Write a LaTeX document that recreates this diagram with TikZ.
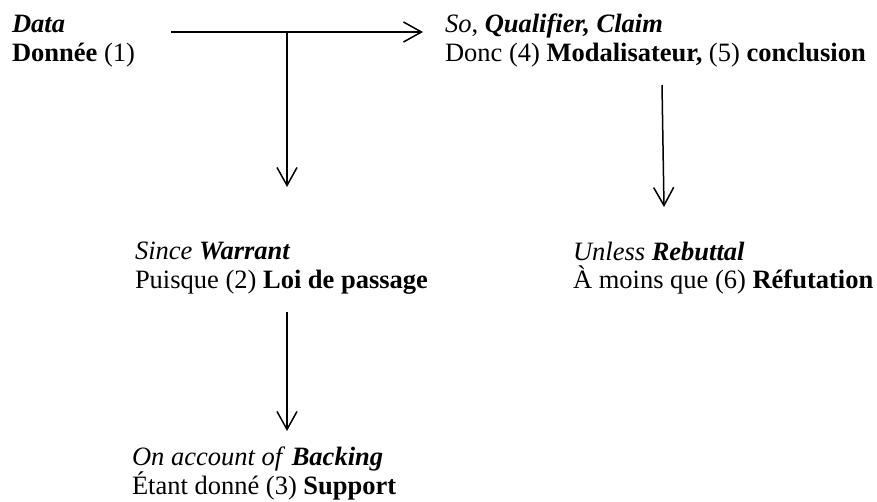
\documentclass[tikz,border=0pt]{standalone}
\usepackage{fontspec}
\setmainfont{Liberation Serif}
\usetikzlibrary{arrows.meta}
\begin{document}
\begin{tikzpicture}[x=0.5pt,y=-0.5pt,
  lbl/.style={anchor=base west,inner sep=0pt,outer sep=0pt,font=\fontsize{13.25}{14.5}\selectfont},
  arr/.style={line width=0.75pt,-{Straight Barb[length=9pt,width=10pt]}},
  ln/.style={line width=0.75pt}]
\useasboundingbox (0,0) rectangle (877,502);
% text blocks
\node[lbl] (dataA) at (12,33) {\textbf{\textit{Data}}};
\node[lbl] (dataB) at (12,62) {\textbf{Donnée} (1)};
\node[lbl] (claimA) at (445,33) {\textit{So}, \textbf{\textit{Qualifier, Claim}}};
\node[lbl] (claimB) at (445,62) {Donc (4) \textbf{Modalisateur,} (5) \textbf{conclusion}};
\node[lbl] (warA) at (135,259) {\textit{Since} \textbf{\textit{Warrant}}};
\node[lbl] (warB) at (135,288) {Puisque (2) \textbf{Loi de passage}};
\node[lbl] (backA) at (132,465) {\textit{On account of} \textbf{\textit{Backing}}};
\node[lbl] (backB) at (132,494) {Étant donné (3) \textbf{Support}};
\node[lbl] (rebA) at (573,260) {\textit{Unless} \textbf{\textit{Rebuttal}}};
\node[lbl] (rebB) at (573,288) {À moins que (6) \textbf{Réfutation}};
% connector end points
\coordinate (hs) at (171,32);
\coordinate (he) at (423,32);
\coordinate (br) at (287,32);
\coordinate (bre) at (287,187);
\coordinate (ws) at (287,312);
\coordinate (we) at (287,431);
\coordinate (cs) at (662,85);
\coordinate (ce) at (664,207);
% connectors
\draw[arr] (hs) -- (he);
\draw[arr] (br) -- (bre);
\draw[arr] (ws) -- (we);
\draw[arr] (cs) -- (ce);
\end{tikzpicture}
\end{document}
